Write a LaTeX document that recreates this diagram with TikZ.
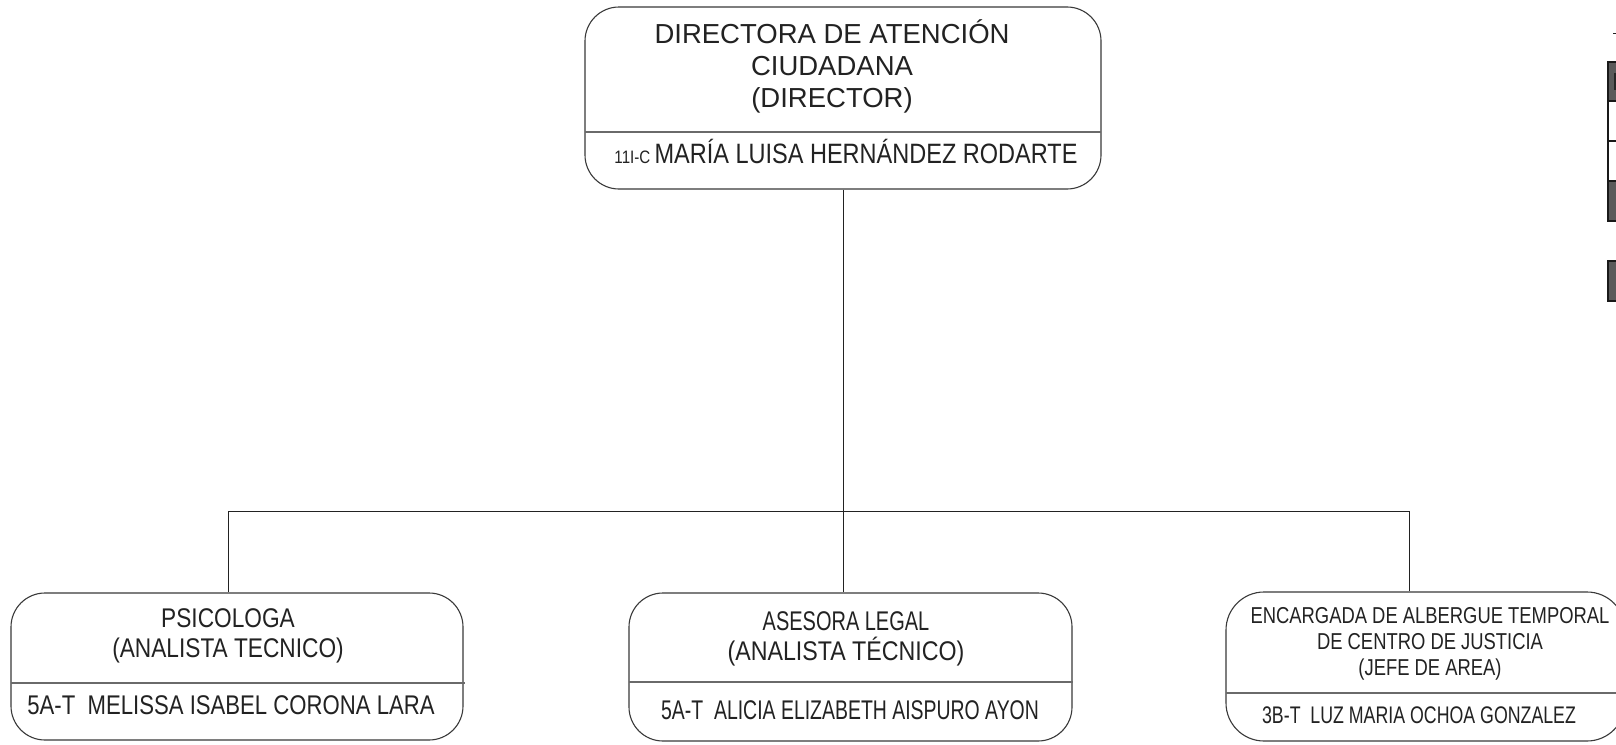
\documentclass[tikz,border=0pt]{standalone}
\usepackage{fontspec}
\setmainfont{Liberation Sans}
\newfontfamily\fEightyFour[FakeStretch=0.84]{Liberation Sans}
\newfontfamily\fEightyTwo[FakeStretch=0.82]{Liberation Sans}
\newfontfamily\fEighty[FakeStretch=0.80]{Liberation Sans}
\newfontfamily\fEightySix[FakeStretch=0.86]{Liberation Sans}
\newfontfamily\fSeventyFour[FakeStretch=0.74]{Liberation Sans}
\newfontfamily\fSeventyTwo[FakeStretch=0.72]{Liberation Sans}
\definecolor{inkc}{HTML}{222222}
\definecolor{boxline}{HTML}{3A3A3A}
\definecolor{divline}{HTML}{6A6A6A}
\definecolor{tabfill}{HTML}{5A5A5A}
\tikzset{
  orgbox/.style={draw=boxline, line width=1.1pt, rounded corners=34pt, inner sep=0pt},
  divider/.style={draw=divline, line width=1.1pt},
  conn/.style={draw=inkc, line width=1pt},
  ttl/.style={inner sep=0pt, align=center, text=inkc},
  tabcell/.style={draw=black!90, line width=2.6pt},
}
\begin{document}
\begin{tikzpicture}[x=1pt,y=-1pt]
\useasboundingbox (0,0) rectangle (1616,744);
\clip (0,0) rectangle (1616,744);
\fill[white] (0,0) rectangle (1616,744);

% top box
\node[orgbox, minimum width=516pt, minimum height=182pt] (top) at (843,98) {};
\node[ttl, font=\fontsize{27.5}{32}\selectfont] (topT) at (832,66) {DIRECTORA DE ATENCIÓN\\CIUDADANA\\(DIRECTOR)};
\draw[divider] (585,132) -- (1101,132);
\node[ttl] (topN) at (846,151) {\fEightyFour\fontsize{18}{20}\selectfont 11I-C \fontsize{28}{30}\selectfont MARÍA LUISA HERNÁNDEZ RODARTE};

% left box
\node[orgbox, minimum width=452pt, minimum height=147pt] (psy) at (237,666.5) {};
\node[ttl, font=\fEightyFour\fontsize{27}{30}\selectfont] (psyT) at (228,636) {PSICOLOGA\\(ANALISTA TECNICO)};
\draw[divider] (11,683) -- (465,683);
\node[ttl, font=\fEightyTwo\fontsize{27}{30}\selectfont] (psyN) at (231,705) {5A-T\ \ MELISSA ISABEL CORONA LARA};

% middle box
\node[orgbox, minimum width=443pt, minimum height=148pt] (leg) at (850.5,667) {};
\node[ttl, font=\fontsize{27}{30}\selectfont] (legT) at (846,639) {{\fSeventyFour ASESORA LEGAL}\\{\fEightySix (ANALISTA TÉCNICO)}};
\draw[divider] (629,682) -- (1073,682);
\node[ttl, font=\fSeventyTwo\fontsize{27}{30}\selectfont] (legN) at (850,710) {5A-T\ \ ALICIA ELIZABETH AISPURO AYON};

% right box
\node[orgbox, minimum width=399pt, minimum height=149pt, rounded corners=38pt] (alb) at (1425.5,666.5) {};
\node[ttl, font=\fEighty\fontsize{23}{26}\selectfont] (albT) at (1430,644) {ENCARGADA DE ALBERGUE TEMPORAL\\DE CENTRO DE JUSTICIA\\(JEFE DE AREA)};
\draw[divider] (1226,693) -- (1625,693);
\node[ttl, font=\fSeventyFour\fontsize{24}{27}\selectfont] (albN) at (1419,715) {3B-T\ \ LUZ MARIA OCHOA GONZALEZ};

% connectors
\coordinate (jL) at (228,511);
\coordinate (jR) at (1409,511);
\draw[conn] (top.south) -- (top.south |- leg.north);
\draw[conn] (jL) -- (jR);
\draw[conn] (jL) -- (jL |- psy.north);
\draw[conn] (jR) -- (jR |- alb.north);

% partial table at right edge
\draw[tabcell, fill=tabfill] (1608,62) rectangle (1640,101);
\draw[tabcell, fill=white] (1608,101) rectangle (1640,141);
\draw[tabcell, fill=white] (1608,141) rectangle (1640,181);
\draw[tabcell, fill=tabfill] (1608,181) rectangle (1640,221);
\draw[tabcell, fill=tabfill] (1608,261) rectangle (1640,301);
\fill[black!85] (1614,73) rectangle (1617,90);
\draw[inkc, line width=1pt] (1613,33) -- (1617,33);
\end{tikzpicture}
\end{document}
